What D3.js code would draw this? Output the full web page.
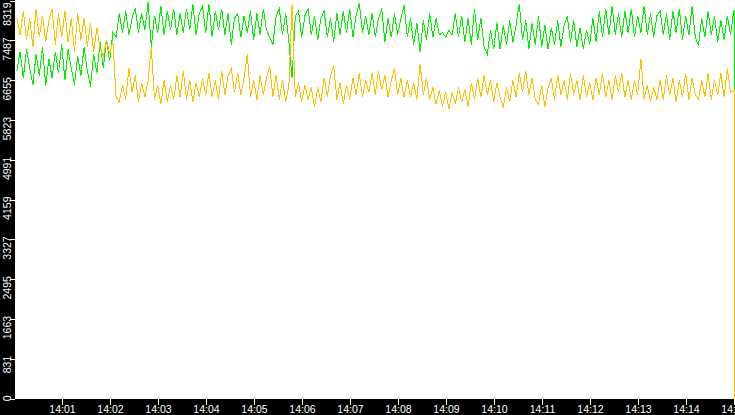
<!DOCTYPE html>
<html>
<head>
<meta charset="utf-8">
<script src="https://cdn.jsdelivr.net/npm/d3@7"></script>
<style>
  html, body { margin: 0; padding: 0; background: #000; overflow: hidden; }
</style>
</head>
<body>
<div id="chart"></div>
<script>
const width = 735;
const height = 415;
const plotLeft = 15;
const plotBottom = 399;

// samples every 4 s from 14:00:03 to 14:14:59, then the drop at 14:15:00
const startTime = "14:00:03";
const stepSeconds = 4;
const endTime = "14:15:00";

const greenValues = [
  6850, 7250, 6700, 7300, 6900, 6560, 7200, 6750, 7350, 6540,
  7100, 6700, 7250, 6800, 7400, 6650, 7300, 6900, 6560, 7150,
  6750, 7350, 6850, 6520, 7200, 6800, 7450, 6900, 7500, 7050,
  7650, 7550, 8050, 7650, 8100, 7600, 7950, 8150, 7650, 8050,
  7700, 8280, 7350, 8000, 7650, 8200, 7600, 8100, 7700, 8150,
  7600, 8050, 7650, 8150, 7700, 8250, 7600, 8050, 8200, 7650,
  8250, 7550, 8100, 7700, 8150, 7600, 8050, 7400, 7950, 8050,
  7550, 8000, 7650, 8100, 7500, 8050, 7600, 8150, 7700, 7550,
  7400, 8000, 8150, 7600, 8050, 7450, 6700, 8000, 8100, 7550,
  8000, 8150, 7600, 8000, 7500, 7950, 8100, 7550, 7950, 7450,
  8050, 7600, 8100, 7650, 8150, 7550, 8000, 8260, 7650, 8000,
  7600, 8050, 7550, 7950, 8150, 7450, 7950, 7550, 8050, 7600,
  7950, 8220, 7550, 7950, 7400, 7850, 7250, 7900, 7500, 8050,
  7550, 7950, 7600, 7650, 7550, 7700, 7600, 8050, 7550, 8000,
  7450, 7950, 7400, 8150, 7500, 7950, 7350, 7200, 7700, 7300,
  7850, 7300, 7800, 7400, 7900, 7450, 7800, 8250, 7500, 7900,
  7300, 7850, 7400, 8000, 7350, 7800, 7300, 7750, 7400, 7900,
  7350, 7800, 8000, 7450, 7900, 7350, 7750, 7300, 7700, 7400,
  7950, 7450, 8100, 7550, 8150, 7600, 8200, 7600, 8050, 7550,
  8100, 7650, 8150, 7550, 8000, 7650, 8200, 7600, 8050, 7550,
  8000, 8100, 7600, 8050, 7500, 8100, 7650, 8150, 7500, 8000,
  7600, 8200, 7550, 7380, 7950, 7550, 8100, 7600, 8000, 7450,
  7900, 7500, 8000, 7600, 8100,
  3135
];

const orangeValues = [
  7950, 7600, 8100, 7500, 7950, 7350, 8150, 7550, 8000, 7450,
  7900, 8150, 7400, 8050, 7550, 8100, 7450, 7950, 7250, 8050,
  7500, 7950, 7350, 7850, 7250, 7750, 7300, 7150, 7500, 7200,
  7450, 6300, 6200, 6550, 6250, 6900, 6400, 6750, 6200, 6600,
  6300, 6650, 7350, 6250, 6550, 6150, 6650, 6200, 6550, 6250,
  6750, 6300, 6850, 6250, 6650, 6200, 6600, 6300, 6700, 6350,
  6800, 6300, 6650, 6250, 6850, 6350, 6750, 6900, 6400, 6800,
  6350, 6700, 7200, 6300, 6650, 6250, 6750, 6350, 6700, 6950,
  6300, 6750, 6250, 6650, 6200, 6550, 8250, 6300, 6600, 6200,
  6550, 6250, 6500, 6100, 6500, 6200, 6700, 6300, 6750, 6950,
  6250, 6600, 6150, 6550, 6250, 6700, 6350, 6800, 6300, 6650,
  6400, 6800, 6350, 6850, 6450, 6750, 6300, 6650, 6900, 6350,
  6700, 6300, 6650, 6300, 6600, 6250, 7000, 6350, 6700, 6250,
  6500, 6150, 6450, 6100, 6400, 6050, 6400, 6150, 6500, 6200,
  6450, 6100, 6600, 6250, 6700, 6300, 6750, 6350, 6650, 6200,
  6600, 6300, 6080, 6500, 6200, 6650, 6300, 6800, 6400, 6850,
  6350, 6700, 6250, 6150, 6550, 6100, 6500, 6700, 6250, 6750,
  6350, 6650, 6250, 6800, 6350, 6650, 6250, 6750, 6300, 6600,
  6250, 6700, 6350, 6800, 6300, 6650, 6250, 6750, 6400, 6800,
  6300, 6650, 6250, 6650, 6350, 7100, 6250, 6550, 6200, 6500,
  6250, 6650, 6250, 6750, 6350, 6700, 6200, 6650, 6300, 6800,
  6250, 6700, 6350, 6250, 6650, 6300, 6800, 6250, 6650, 6350,
  6800, 6300, 6900, 6400, 6450,
  0
];

const xTickLabels = ["14:01", "14:02", "14:03", "14:04", "14:05", "14:06", "14:07",
  "14:08", "14:09", "14:10", "14:11", "14:12", "14:13", "14:14", "14:15"];
const yTickLabels = [0, 831, 1663, 2495, 3327, 4159, 4991, 5823, 6655, 7487, 8319];
const yMax = 8319;

const parseTime = d3.timeParse("%H:%M:%S");
const parseMinute = d3.timeParse("%H:%M");
const t0 = parseTime(startTime);
const times = greenValues.map((d, i) =>
  i === greenValues.length - 1 ? parseTime(endTime) : d3.timeSecond.offset(t0, i * stepSeconds));

const x = d3.scaleTime()
  .domain([parseTime("14:00:00"), parseTime("14:15:00")])
  .range([14, 734]);
const y = d3.scaleLinear()
  .domain([0, yMax])
  .range([398.5, 0.5]);

const svg = d3.select("#chart")
  .append("svg")
  .attr("width", width)
  .attr("height", height)
  .style("display", "block");

svg.append("rect").attr("width", width).attr("height", height).attr("fill", "#000");
svg.append("rect")
  .attr("x", plotLeft).attr("y", 0)
  .attr("width", width - plotLeft).attr("height", plotBottom)
  .attr("fill", "#fff");

svg.append("clipPath").attr("id", "plotClip")
  .append("rect")
  .attr("x", plotLeft).attr("y", 0)
  .attr("width", width - plotLeft + 10).attr("height", plotBottom);

const points = values => values.map((v, i) => [x(times[i]) + 0.5, y(v)]);

// body of each series as a plain line, the final drop as a straight vertical
const bodyLine = d3.line();
const dropLine = d3.line().curve(d3.curveStepAfter);

const lines = svg.append("g").attr("clip-path", "url(#plotClip)");
[["#00f000", greenValues], ["#ffc000", orangeValues]].forEach(([color, values]) => {
  const pts = points(values);
  lines.append("path")
    .attr("d", bodyLine(pts.slice(0, -1)))
    .attr("fill", "none")
    .attr("stroke", color)
    .attr("stroke-width", 1)
    .attr("shape-rendering", "crispEdges");
  lines.append("path")
    .attr("d", dropLine(pts.slice(-2)))
    .attr("fill", "none")
    .attr("stroke", color)
    .attr("stroke-width", 1)
    .attr("shape-rendering", "crispEdges");
});

// x axis
const xAxis = d3.axisBottom(x)
  .tickValues(xTickLabels.map(parseMinute))
  .tickFormat(d3.timeFormat("%H:%M"))
  .tickSize(6)
  .tickPadding(1);

const gx = svg.append("g")
  .attr("transform", `translate(0,${plotBottom})`)
  .call(xAxis);
gx.select(".domain").remove();
gx.selectAll("line").attr("stroke", "#fff").attr("shape-rendering", "crispEdges");
gx.selectAll("text")
  .attr("fill", "#fff")
  .style("font-family", "'Liberation Sans', Arial, sans-serif")
  .style("font-size", "10.5px");

// y axis, labels rotated and hung below each tick
const yAxis = d3.axisLeft(y)
  .tickValues(yTickLabels)
  .tickFormat(d3.format("d"))
  .tickSize(5);

const gy = svg.append("g")
  .attr("transform", `translate(${plotLeft},0)`)
  .call(yAxis);
gy.select(".domain").remove();
gy.selectAll("line").attr("stroke", "#fff").attr("shape-rendering", "crispEdges");
gy.selectAll("text")
  .attr("x", null)
  .attr("dy", null)
  .attr("fill", "#fff")
  .attr("text-anchor", "end")
  .attr("transform", d => `translate(-4.5,${Math.max(y(d) - 3.5, 2) - y(d)}) rotate(-90)`)
  .style("font-family", "'Liberation Sans', Arial, sans-serif")
  .style("font-size", "10.5px");
</script>
</body>
</html>
